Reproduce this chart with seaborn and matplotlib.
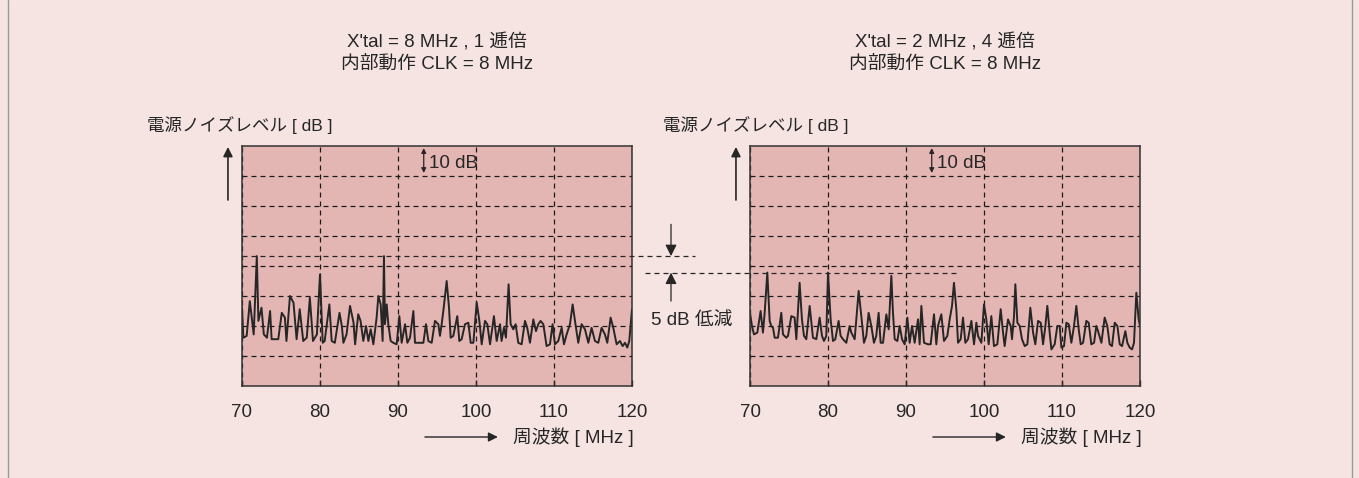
import numpy as np
import pandas as pd
import matplotlib
matplotlib.use("Agg")
import matplotlib.pyplot as plt
import seaborn as sns
from matplotlib.lines import Line2D

# ---------------- data ----------------
freq_a = [70.0, 70.17, 70.6, 71.0, 71.5, 71.9, 72.1, 72.5, 72.8, 73.2, 73.6, 73.8, 74.65, 75.1, 75.5, 75.7,
          76.15, 76.6, 77.0, 77.4, 77.85, 78.3, 78.7, 79.1, 79.6, 80.0, 80.35, 80.6, 81.2, 81.5, 81.9, 82.5,
          82.8, 83.0, 83.4, 83.85, 84.3, 84.5, 84.9, 85.2, 85.55, 85.9, 86.2, 86.5,
          86.84, 87.26, 87.48, 87.78, 88.03, 88.2, 88.33, 88.55, 88.76, 89.06, 89.4, 89.83, 90.17, 90.47,
          90.9, 91.2, 91.54, 91.97, 92.18, 92.6, 93.25, 93.59, 93.89, 94.32, 94.74, 95.17, 95.38, 95.6,
          95.81, 96.24, 96.54, 96.75, 97.09, 97.6, 97.86, 98.16, 98.59, 99.02, 99.32, 99.66, 100.09, 100.43,
          100.73, 101.15, 101.45, 101.8, 102.3, 102.65, 103.08,
          103.28, 103.58, 103.84, 104.18, 104.44, 104.78, 105.08, 105.42, 105.85, 106.28, 106.57, 106.92,
          107.35, 107.69, 107.99, 108.28, 108.63, 109.05, 109.48, 109.82, 110.12, 110.55, 110.98, 111.28,
          111.62, 112.05, 112.39, 112.69, 113.11, 113.54, 113.97, 114.4, 114.82, 115.25, 115.68, 116.1,
          116.53, 116.83, 117.26, 117.6, 118.03, 118.46, 118.8, 119.1, 119.4, 119.65, 120.0]
level_a = [26.1, 16.1, 16.7, 28.3, 17.2, 43.3, 21.7, 26.1, 17.2, 16.1, 25.0, 15.6, 15.6, 24.4, 22.8, 15.0,
           30.0, 27.8, 15.6, 25.6, 15.0, 16.1, 29.4, 15.0, 17.2, 37.2, 14.4, 15.0, 27.2, 15.0, 14.4, 24.4,
           20.0, 14.4, 17.2, 26.7, 21.1, 13.9, 23.9, 21.7, 15.0, 20.0, 15.0, 18.9,
           13.9, 22.8, 30.0, 27.2, 15.0, 43.3, 20.6, 27.2, 20.6, 15.0, 14.4, 13.9, 23.3, 14.4,
           20.6, 14.4, 16.1, 25.0, 14.4, 14.4, 14.4, 20.6, 15.0, 14.4, 21.7, 20.6, 16.7, 20.6,
           25.0, 35.0, 26.1, 16.1, 16.7, 23.3, 15.0, 15.6, 20.6, 21.1, 14.4, 14.4, 27.8, 21.7,
           13.9, 21.7, 20.6, 13.9, 23.3, 15.0, 20.6,
           15.0, 19.4, 16.1, 33.9, 20.6, 18.9, 20.6, 14.4, 13.9, 21.7, 19.4, 14.4,
           22.2, 18.3, 20.6, 21.7, 20.6, 13.3, 13.9, 20.6, 13.9, 15.0, 19.4, 13.9,
           17.2, 20.6, 27.2, 21.7, 14.4, 20.6, 18.9, 14.4, 19.4, 15.0, 14.4, 19.4,
           17.2, 14.4, 22.8, 19.4, 13.9, 15.0, 13.3, 14.4, 12.8, 15.0, 25.6]

freq_b = [70.0, 70.25, 70.51, 70.94, 71.36, 71.66, 71.88, 72.22, 72.52, 72.73, 72.95, 73.16, 73.59, 74.01,
          74.23, 74.65, 74.87, 75.3, 75.72, 75.94, 76.36, 76.66, 76.92, 77.22, 77.65, 78.07, 78.5, 78.93,
          79.23, 79.48, 79.78, 80.0, 80.34, 80.64, 80.94, 81.36, 81.62, 81.92, 82.35, 82.77, 82.99, 83.42,
          83.93, 84.27, 84.61, 84.91, 85.21, 85.55, 85.89, 86.19, 86.49,
          86.75, 87.05, 87.48, 87.78, 88.12, 88.33, 88.55, 88.89, 89.19, 89.49, 89.83, 90.17, 90.47, 90.77,
          91.11, 91.54, 91.75, 91.97, 92.31, 92.82, 93.16, 93.59, 93.89, 94.1, 94.53, 94.87, 95.3, 95.6,
          95.9, 96.15, 96.45, 96.67, 97.01, 97.31, 97.61, 97.95, 98.38, 98.72, 99.02, 99.23, 99.66, 100.0,
          100.3, 100.6, 100.94, 101.28, 101.71, 102.14, 102.44, 102.65, 103.08,
          103.42, 103.59, 103.85, 104.02, 104.28, 104.58, 104.87, 105.22, 105.56, 105.94, 106.29, 106.58,
          106.93, 107.27, 107.57, 107.87, 108.12, 108.42, 108.64, 109.06, 109.4, 109.7, 109.92, 110.26,
          110.56, 110.86, 111.2, 111.54, 111.84, 112.14, 112.4, 112.7, 113.12, 113.42, 113.76, 114.11,
          114.4, 114.62, 115.05, 115.47, 115.81, 116.11, 116.41, 116.76, 117.1, 117.4, 117.7, 118.12,
          118.38, 118.68, 118.98, 119.23, 119.53, 119.83, 120.0]
level_b = [24.4, 20.0, 17.2, 17.8, 25.0, 17.8, 24.4, 37.8, 21.7, 20.0, 19.4, 16.1, 16.1, 24.4,
           17.2, 16.1, 16.7, 23.3, 22.8, 15.6, 34.4, 22.2, 16.7, 15.6, 26.7, 16.1, 15.6, 22.8,
           16.7, 15.0, 16.7, 37.8, 22.2, 15.0, 15.6, 21.7, 16.7, 15.6, 14.4, 20.0, 17.8, 15.6,
           31.7, 23.3, 14.4, 16.7, 24.4, 20.0, 14.4, 16.7, 24.4,
           14.4, 14.4, 23.9, 18.9, 36.7, 24.4, 15.6, 15.0, 20.0, 15.6, 13.9, 22.8, 14.4, 20.0,
           14.4, 22.2, 13.9, 26.7, 14.4, 13.9, 13.9, 23.9, 13.9, 20.0, 23.9, 15.0, 16.7, 22.2,
           26.7, 34.4, 25.6, 14.4, 15.6, 22.8, 14.4, 15.6, 21.7, 13.9, 21.1, 16.7, 14.4, 27.2,
           22.2, 13.9, 23.3, 13.3, 13.9, 25.6, 17.8, 13.3, 22.2,
           20.0, 15.6, 23.3, 33.9, 21.1, 20.0, 15.6, 13.3, 13.9, 26.1, 17.8, 13.9,
           21.7, 21.1, 13.9, 20.0, 26.7, 17.8, 12.2, 13.9, 20.0, 20.0, 12.8, 13.3,
           21.1, 20.6, 14.4, 20.0, 26.7, 18.9, 13.9, 14.4, 21.7, 21.1, 13.9, 14.4,
           20.0, 18.3, 14.4, 22.8, 20.0, 13.9, 13.3, 21.1, 20.0, 13.9, 13.3, 18.3,
           14.4, 12.8, 12.2, 14.4, 31.1, 22.2, 20.0]

x_ticks = [70, 80, 90, 100, 110, 120]
x_tick_labels = ["70", "80", "90", "100", "110", "120"]
grid_levels = [10, 20, 30, 40, 50, 60, 70]
ref_levels = [43.3, 37.8]          # peak levels of the two panels (5 dB 低減)
titles_1 = ["X'tal = 8 MHz , 1 逓倍", "X'tal = 2 MHz , 4 逓倍"]
titles_2 = ["内部動作 CLK = 8 MHz", "内部動作 CLK = 8 MHz"]
y_label = "電源ノイズレベル [ dB ]"
x_label = "周波数 [ MHz ]"

# ---------------- style ----------------
sns.set_theme(style="white")
plt.rcParams['font.family'] = ['Liberation Sans', 'Noto Sans CJK JP']
plt.rcParams['axes.axisbelow'] = True

BG = '#f5e4e2'
PANEL = '#e4b6b3'
INK = '#262626'
FS = 13.5

W, H = 1359, 478
fig = plt.figure(figsize=(W / 100, H / 100), dpi=100, facecolor=BG)
ax_a = fig.add_axes([242 / W, 92 / H, 390 / W, 240 / H])
ax_b = fig.add_axes([750 / W, 92 / H, 390 / W, 240 / H])

panels = [(ax_a, freq_a, level_a, -0.2436), (ax_b, freq_b, level_b, -0.223)]
for i, (ax, fr, lv, ylab_x) in enumerate(panels):
    ax.set_facecolor(PANEL)
    df = pd.DataFrame({"freq": fr, "level": lv})
    sns.lineplot(data=df, x="freq", y="level", ax=ax, color=INK, linewidth=1.4,
                 estimator=None, sort=False)
    ax.set_xlim(70, 120)
    ax.set_ylim(0, 80)
    ax.set_xticks(x_ticks)
    ax.set_xticklabels(x_tick_labels)
    ax.set_yticks(grid_levels)
    ax.set_yticklabels([])
    ax.tick_params(axis='y', length=0)
    ax.tick_params(axis='x', direction='in', length=4, width=1, color=INK,
                   labelsize=FS, pad=13, labelcolor=INK, bottom=True)
    ax.grid(True, color='#1a1a1a', linestyle=(0, (4, 3.2)), linewidth=0.9)
    ax.set_xlabel("")
    ax.set_ylabel("")
    for s in ax.spines.values():
        s.set_visible(True)
        s.set_color('#333333')
        s.set_linewidth(1.1)

    # titles
    ax.text(0.5, 1.43, titles_1[i], transform=ax.transAxes, ha='center', va='center',
            fontsize=FS, color=INK)
    ax.text(0.5, 1.342, titles_2[i], transform=ax.transAxes, ha='center', va='center',
            fontsize=FS, color=INK)
    # y label and arrow
    ax.text(ylab_x, 1.088, y_label, transform=ax.transAxes, ha='left', va='center',
            fontsize=12.6, color=INK)
    ax.annotate('', xy=(-0.036, 0.996), xytext=(-0.036, 0.775), xycoords='axes fraction',
                arrowprops=dict(arrowstyle='-|>', color=INK, lw=1.2, mutation_scale=14,
                                shrinkA=0, shrinkB=0), annotation_clip=False)
    # x label and arrow
    ax.annotate('', xy=(0.656, -0.2125), xytext=(0.469, -0.2125), xycoords='axes fraction',
                arrowprops=dict(arrowstyle='-|>', color=INK, lw=1.0, mutation_scale=14,
                                shrinkA=0, shrinkB=0), annotation_clip=False)
    ax.text(0.695, -0.2125, x_label, transform=ax.transAxes, ha='left', va='center',
            fontsize=FS, color=INK)
    # 10 dB marker
    ax.annotate('', xy=(93.3, 79.3), xytext=(93.3, 71.0),
                arrowprops=dict(arrowstyle='<|-|>', color=INK, lw=0.9, mutation_scale=7,
                                shrinkA=0, shrinkB=0))
    ax.text(94.0, 74.0, "10 dB", ha='left', va='center', fontsize=FS, color=INK)

# reference dashed lines across panels
ax_a.plot([70, 128.1], [ref_levels[0]] * 2, color=INK, linestyle=(0, (4, 3.2)),
          linewidth=0.9, clip_on=False)
ax_b.plot([56.5, 96.5], [ref_levels[1]] * 2, color=INK, linestyle=(0, (4, 3.2)),
          linewidth=0.9, clip_on=False)
# 5 dB arrows
ax_a.annotate('', xy=(125.0, ref_levels[0]), xytext=(125.0, 53.9),
              arrowprops=dict(arrowstyle='-|>', color=INK, lw=0.9, mutation_scale=17,
                              shrinkA=0, shrinkB=0), annotation_clip=False)
ax_a.annotate('', xy=(125.0, ref_levels[1]), xytext=(125.0, 28.3),
              arrowprops=dict(arrowstyle='-|>', color=INK, lw=0.9, mutation_scale=17,
                              shrinkA=0, shrinkB=0), annotation_clip=False)
ax_a.text(127.7, 21.7, "5 dB 低減", ha='center', va='center', fontsize=FS, color=INK,
          clip_on=False)

# frame lines at left and right edges
for xf in (8 / W, 1352 / W):
    fig.add_artist(Line2D([xf, xf], [0, 1], transform=fig.transFigure, color='#9a9a9a', lw=1))

fig.savefig("out.png", dpi=100, facecolor=BG)
